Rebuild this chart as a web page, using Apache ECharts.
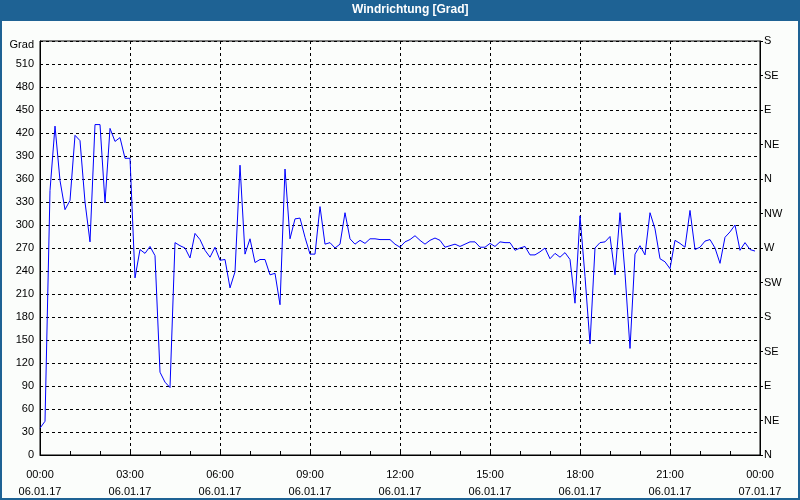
<!DOCTYPE html>
<html>
<head>
<meta charset="utf-8">
<title>Windrichtung [Grad]</title>
<script src="https://cdn.jsdelivr.net/npm/echarts@6/dist/echarts.min.js"></script>
<style>
  html, body { margin: 0; padding: 0; background: #fbfdfb; }
  #chart { width: 800px; height: 500px; }
</style>
</head>
<body>
<div id="chart"></div>
<script>
// wind direction samples, one every 10 minutes starting 06.01.17 00:00
const stepMinutes = 10;
const windDir = [
  35, 44, 345, 429, 358, 320, 332, 417, 410, 330,
  278, 431, 431, 329, 426, 409, 414, 387, 387, 231,
  268, 263, 272, 260, 108, 95, 88, 277, 273, 270,
  257, 289, 281, 267, 258, 271, 254, 255, 218, 239,
  378, 262, 282, 251, 255, 255, 235, 237, 196, 373,
  282, 308, 309, 284, 262, 262, 324, 275, 277, 270,
  275, 316, 282, 275, 280, 276, 282, 282, 281, 281,
  281, 275, 271, 278, 281, 286, 280, 275, 280, 283,
  280, 271, 273, 275, 272, 275, 278, 278, 271, 271,
  276, 272, 278, 277, 277, 267, 270, 272, 261, 261,
  265, 270, 256, 263, 258, 264, 255, 198, 312, 233,
  145, 270, 277, 278, 285, 235, 316, 237, 139, 262,
  273, 261, 316, 295, 256, 252, 243, 280, 276, 271,
  319, 268, 271, 279, 281, 270, 250, 284, 291, 300,
  267, 277, 268, 266
];

// axis labels
const timeLabels = ['00:00', '03:00', '06:00', '09:00', '12:00', '15:00', '18:00', '21:00', '00:00'];
const dateLabels = ['06.01.17', '06.01.17', '06.01.17', '06.01.17', '06.01.17', '06.01.17', '06.01.17', '06.01.17', '07.01.17'];
const compassLabels = ['N', 'NE', 'E', 'SE', 'S', 'SW', 'W', 'NW', 'N', 'NE', 'E', 'SE', 'S'];

const headerColor = '#1e6294';
const font = 'Liberation Sans';

const seriesData = windDir.map((v, i) => [i * stepMinutes, v]);

const chart = echarts.init(document.getElementById('chart'), null, { renderer: 'canvas' });

const dashed = { color: '#000', width: 1, type: [3, 3] };

const option = {
  backgroundColor: '#fbfdfb',
  animation: false,
  graphic: [
    // blue header bar
    {
      type: 'rect',
      z: -1,
      shape: { x: 0, y: 0, width: 800, height: 21 },
      style: { fill: headerColor }
    },
    // frame around the whole picture
    {
      type: 'rect',
      z: -1,
      shape: { x: 1, y: 1, width: 798, height: 498 },
      style: { fill: 'none', stroke: headerColor, lineWidth: 2 }
    }
  ],
  title: {
    text: 'Windrichtung [Grad]',
    left: 352,
    top: 4,
    padding: 0,
    textStyle: {
      color: '#fff',
      fontSize: 12,
      fontWeight: 'bold',
      fontFamily: font
    }
  },
  grid: {
    left: 40,
    right: 40,
    top: 41,
    bottom: 39,
    show: true,
    backgroundColor: 'transparent',
    borderColor: '#000',
    borderWidth: 1
  },
  xAxis: {
    type: 'value',
    min: 0,
    max: 1440,
    interval: 180,
    axisLine: { lineStyle: { color: '#000' } },
    axisTick: { inside: true, length: 4, lineStyle: { color: '#000' } },
    minorTick: { show: true, splitNumber: 3, length: 4, lineStyle: { color: '#000' } },
    splitLine: { show: true, lineStyle: dashed },
    axisLabel: {
      showMinLabel: true,
      showMaxLabel: true,
      margin: 11,
      color: '#000',
      fontSize: 11,
      fontFamily: font,
      lineHeight: 17,
      formatter: (v) => {
        const k = Math.round(v / 180);
        return timeLabels[k] + '\n' + dateLabels[k];
      }
    }
  },
  yAxis: [
    {
      type: 'value',
      min: 0,
      max: 540,
      interval: 30,
      axisLine: { show: true, lineStyle: { color: '#000' } },
      axisTick: { show: false },
      splitLine: { show: true, lineStyle: dashed },
      axisLabel: {
        margin: 6,
        color: '#000',
        fontSize: 11,
        fontFamily: font,
        formatter: (v) => (v === 540 ? '{g|Grad}' : String(v)),
        rich: {
          g: { color: '#000', fontSize: 11, fontFamily: font, padding: [8, 0, 0, 0] }
        }
      }
    },
    {
      type: 'value',
      position: 'right',
      min: 0,
      max: 540,
      interval: 45,
      axisLine: { show: true, lineStyle: { color: '#000' } },
      axisTick: { show: true, length: 3, lineStyle: { color: '#000' } },
      splitLine: { show: false },
      axisLabel: {
        margin: 4,
        color: '#000',
        fontSize: 11,
        fontFamily: font,
        formatter: (v) => compassLabels[Math.round(v / 45)]
      }
    }
  ],
  series: [
    {
      type: 'line',
      yAxisIndex: 0,
      data: seriesData,
      showSymbol: false,
      lineStyle: { color: '#0000ff', width: 1 },
      itemStyle: { color: '#0000ff' }
    }
  ]
};

chart.setOption(option);
</script>
</body>
</html>
